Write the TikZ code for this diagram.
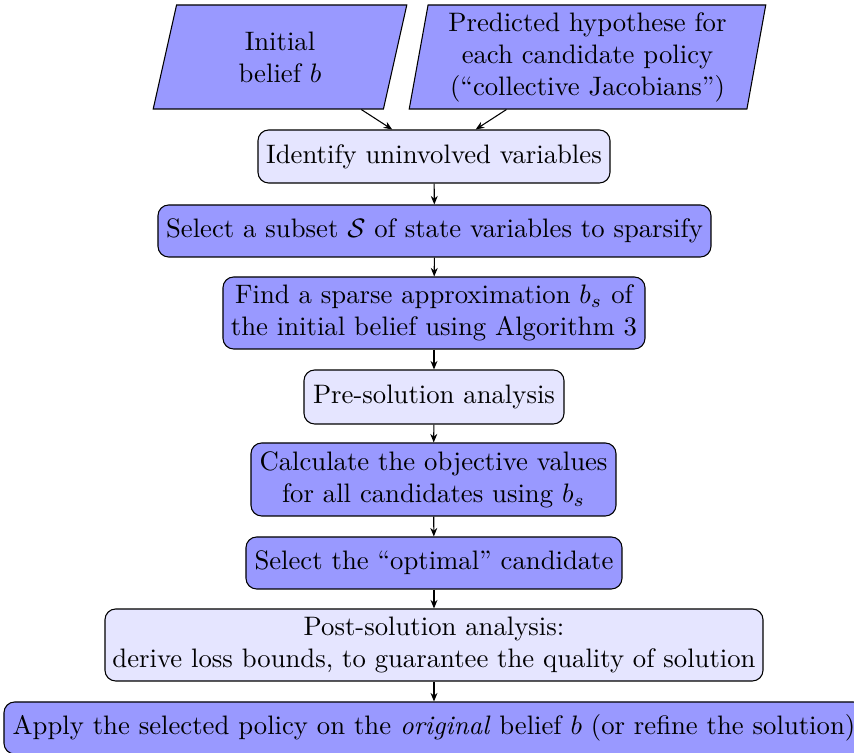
\documentclass[tikz,border=0pt]{standalone}
\usetikzlibrary{shapes.geometric,arrows.meta}
\def\pu{0.3745pt}
\begin{document}
\begin{tikzpicture}[x=0.3745pt,y=-0.3745pt,
  box/.style={draw, rounded corners=4pt, align=center, inner sep=0pt,
    minimum width={#1*\pu}},
  dark/.style={box=#1, fill=blue!40},
  light/.style={box=#1, fill=blue!10},
  io/.style={draw, trapezium, trapezium left angle=79.6,
    trapezium right angle=100.4, trapezium stretches, fill=blue!40,
    align=center, inner sep=0pt, minimum width={#1*\pu},
    minimum height={104*\pu}},
  flow/.style={-{Stealth[length=3.2pt,width=2.6pt]}}]
\useasboundingbox (0,0) rectangle (854,753);

\node[io=254] (init) at (280,57) {Initial\\belief $b$};
\node[io=357] (pred) at (587.5,57)
  {Predicted hypothese for\\each candidate policy\\(``collective Jacobians'')};
\node[light=352, minimum height={53*\pu}] (ident) at (434,156.5)
  {Identify uninvolved variables};
\node[dark=553, minimum height={52*\pu}] (subset) at (434.5,231)
  {Select a subset $\mathcal{S}$ of state variables to sparsify};
\node[dark=422, minimum height={72*\pu}] (sparse) at (434,313)
  {Find a sparse approximation $b_s$ of\\the initial belief using Algorithm 3};
\node[light=260, minimum height={54*\pu}] (pre) at (434,397)
  {Pre-solution analysis};
\node[dark=365, minimum height={73*\pu}] (calc) at (433.5,479.5)
  {Calculate the objective values\\for all candidates using $b_s$};
\node[dark=376, minimum height={52*\pu}] (opt) at (434,563)
  {Select the ``optimal'' candidate};
\node[light=658, minimum height={72*\pu}] (post) at (434,645)
  {Post-solution analysis:\\derive loss bounds, to guarantee the quality of solution};
\node[dark=860, minimum height={52*\pu}] (apply) at (434,728)
  {Apply the selected policy on the \emph{original} belief $b$ (or refine the solution)};

\draw[flow] (init) -- (ident);
\draw[flow] (pred) -- (ident);
\draw[flow] (ident) -- (subset);
\draw[flow] (subset) -- (sparse);
\draw[flow] (sparse) -- (pre);
\draw[flow] (pre) -- (calc);
\draw[flow] (calc) -- (opt);
\draw[flow] (opt) -- (post);
\draw[flow] (post) -- (apply);
\end{tikzpicture}
\end{document}
